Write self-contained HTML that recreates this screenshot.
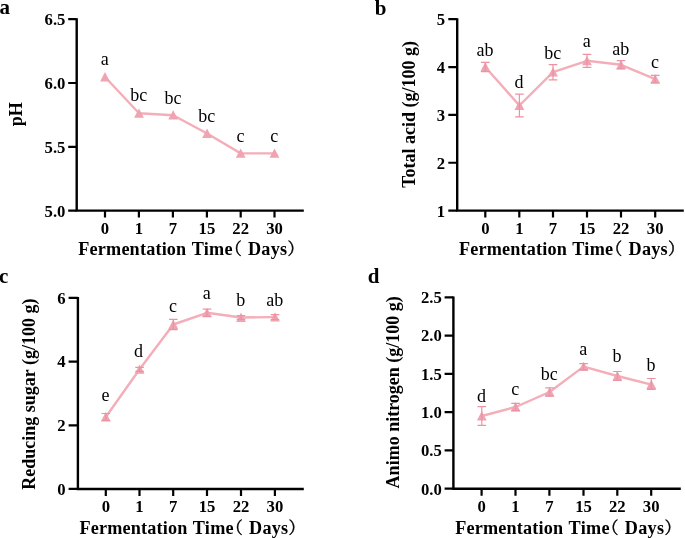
<!DOCTYPE html>
<html lang="en">
<head>
<meta charset="utf-8">
<title>Fermentation time charts</title>
<style>
html,body{margin:0;padding:0;background:#fff;}
body{width:685px;height:538px;overflow:hidden;}
svg{display:block;filter:blur(0.4px);}
text{font-family:'Liberation Serif','Noto Serif CJK SC',serif;fill:#000;}
.pl{font-weight:bold;font-size:21px;}
.tl{font-weight:bold;font-size:16.7px;}
.tt{font-weight:bold;font-size:18.2px;letter-spacing:0.26px;}
.fw{letter-spacing:0.17px;}
.yl{font-weight:bold;font-size:18px;}
.an{font-size:18px;}
.cj{font-weight:normal;font-size:16.5px;stroke:#000;stroke-width:0.45px;letter-spacing:0;}
.ax{fill:none;stroke:#000;stroke-width:2.4;stroke-linecap:butt;stroke-linejoin:miter;}
.tk{fill:none;stroke:#000;stroke-width:2.2;}
.ln{fill:none;stroke:#F3AEB9;stroke-width:2.4;stroke-linejoin:round;}
.eb{fill:none;stroke:#EC92A3;stroke-width:1.2;}
.mk{fill:#F0A3B0;stroke:none;}
</style>
</head>
<body>
<svg width="685" height="538" viewBox="0 0 685 538">
<rect x="0" y="0" width="685" height="538" fill="#fff"/>
<g>
<text class="pl" x="-0.5" y="14.3">a</text>
<polyline class="ln" points="105,77 139,113.3 173.2,115.2 207.1,133.5 240.7,153.4 274.5,153.4"/>
<path class="mk" d="M105 72.1L109.9 81.4H100.1Z"/>
<path class="mk" d="M139 108.4L143.9 117.7H134.1Z"/>
<path class="mk" d="M173.2 110.3L178.1 119.6H168.3Z"/>
<path class="mk" d="M207.1 128.6L212 137.9H202.2Z"/>
<path class="mk" d="M240.7 148.5L245.6 157.8H235.8Z"/>
<path class="mk" d="M274.5 148.5L279.4 157.8H269.6Z"/>
<path class="ax" d="M76.7 18.2V210.6H303.8"/>
<path class="tk" d="M68.2 19.2H76.7M68.2 83H76.7M68.2 146.8H76.7M68.2 210.6H76.7M105 210.6V217.6M138.9 210.6V217.6M172.9 210.6V217.6M206.9 210.6V217.6M240.7 210.6V217.6M274.5 210.6V217.6"/>
<text class="tl" text-anchor="end" x="65.4" y="25.1">6.5</text>
<text class="tl" text-anchor="end" x="65.4" y="88.9">6.0</text>
<text class="tl" text-anchor="end" x="65.4" y="152.7">5.5</text>
<text class="tl" text-anchor="end" x="65.4" y="216.5">5.0</text>
<text class="tl" text-anchor="middle" x="105" y="233.8">0</text>
<text class="tl" text-anchor="middle" x="138.9" y="233.8">1</text>
<text class="tl" text-anchor="middle" x="172.9" y="233.8">7</text>
<text class="tl" text-anchor="middle" x="206.9" y="233.8">15</text>
<text class="tl" text-anchor="middle" x="240.7" y="233.8">22</text>
<text class="tl" text-anchor="middle" x="274.5" y="233.8">30</text>
<text class="tt" x="78.3" y="255.1"><tspan class="fw">Fermentation </tspan><tspan x="191.7">Time</tspan><tspan class="cj" x="225.2">（</tspan><tspan x="247.9">Days</tspan><tspan class="cj" x="287.5">）</tspan></text>
<text class="yl" text-anchor="middle" transform="translate(22.4 114.3) rotate(-90)">pH</text>
<text class="an" text-anchor="middle" x="104.7" y="64.8">a</text>
<text class="an" text-anchor="middle" x="138.7" y="101.4">bc</text>
<text class="an" text-anchor="middle" x="172.9" y="103.5">bc</text>
<text class="an" text-anchor="middle" x="206.8" y="122.4">bc</text>
<text class="an" text-anchor="middle" x="240.4" y="141.9">c</text>
<text class="an" text-anchor="middle" x="274.2" y="141.9">c</text>
</g>
<g>
<text class="pl" x="374.8" y="14.7">b</text>
<polyline class="ln" points="485.3,67 519.4,105.5 553,72.2 587,60.8 621,64.8 655.2,79.2"/>
<path class="mk" d="M485.3 62.1L490.2 71.4H480.4Z"/>
<path class="mk" d="M519.4 100.6L524.3 109.9H514.5Z"/>
<path class="mk" d="M553 67.3L557.9 76.6H548.1Z"/>
<path class="mk" d="M587 55.9L591.9 65.2H582.1Z"/>
<path class="mk" d="M621 59.9L625.9 69.2H616.1Z"/>
<path class="mk" d="M655.2 74.3L660.1 83.6H650.3Z"/>
<path class="eb" d="M485.3 62.3V71.7M481 62.3H489.6M481 71.7H489.6"/>
<path class="eb" d="M519.4 94.1V116.9M515.1 94.1H523.7M515.1 116.9H523.7"/>
<path class="eb" d="M553 64.6V79.8M548.7 64.6H557.3M548.7 79.8H557.3"/>
<path class="eb" d="M587 54.3V67.3M582.7 54.3H591.3M582.7 67.3H591.3"/>
<path class="eb" d="M621 60.6V69M616.7 60.6H625.3M616.7 69H625.3"/>
<path class="eb" d="M655.2 75.4V83M650.9 75.4H659.5M650.9 83H659.5"/>
<path class="ax" d="M457.2 18.2V210.6H683.8"/>
<path class="tk" d="M448.3 19.2H457.2M448.3 67.05H457.2M448.3 114.9H457.2M448.3 162.75H457.2M448.3 210.6H457.2M485.3 210.6V217.6M519.3 210.6V217.6M553 210.6V217.6M587 210.6V217.6M621 210.6V217.6M655.2 210.6V217.6"/>
<text class="tl" text-anchor="end" x="445.2" y="25.1">5</text>
<text class="tl" text-anchor="end" x="445.2" y="72.95">4</text>
<text class="tl" text-anchor="end" x="445.2" y="120.8">3</text>
<text class="tl" text-anchor="end" x="445.2" y="168.65">2</text>
<text class="tl" text-anchor="end" x="445.2" y="216.5">1</text>
<text class="tl" text-anchor="middle" x="485.3" y="233.8">0</text>
<text class="tl" text-anchor="middle" x="519.3" y="233.8">1</text>
<text class="tl" text-anchor="middle" x="553" y="233.8">7</text>
<text class="tl" text-anchor="middle" x="587" y="233.8">15</text>
<text class="tl" text-anchor="middle" x="621" y="233.8">22</text>
<text class="tl" text-anchor="middle" x="655.2" y="233.8">30</text>
<text class="tt" x="458.9" y="255.1"><tspan class="fw">Fermentation </tspan><tspan x="572.3">Time</tspan><tspan class="cj" x="605.8">（</tspan><tspan x="628.5">Days</tspan><tspan class="cj" x="668.1">）</tspan></text>
<text class="yl" text-anchor="middle" transform="translate(414.8 114.4) rotate(-90)">Total acid (g/100 g)</text>
<text class="an" text-anchor="middle" x="485" y="56.3">ab</text>
<text class="an" text-anchor="middle" x="519.1" y="88">d</text>
<text class="an" text-anchor="middle" x="552.7" y="58.7">bc</text>
<text class="an" text-anchor="middle" x="586.7" y="47.2">a</text>
<text class="an" text-anchor="middle" x="620.7" y="54.9">ab</text>
<text class="an" text-anchor="middle" x="654.9" y="68.1">c</text>
</g>
<g>
<text class="pl" x="-0.9" y="282.7">c</text>
<polyline class="ln" points="105.8,417 139.6,369.3 173.3,324.5 207,312.8 241,317.5 275,317.1"/>
<path class="mk" d="M105.8 412.1L110.7 421.4H100.9Z"/>
<path class="mk" d="M139.6 364.4L144.5 373.7H134.7Z"/>
<path class="mk" d="M173.3 319.6L178.2 328.9H168.4Z"/>
<path class="mk" d="M207 307.9L211.9 317.2H202.1Z"/>
<path class="mk" d="M241 312.6L245.9 321.9H236.1Z"/>
<path class="mk" d="M275 312.2L279.9 321.5H270.1Z"/>
<path class="eb" d="M105.8 413.5V420.5M101.5 413.5H110.1M101.5 420.5H110.1"/>
<path class="eb" d="M139.6 367.3V371.3M135.3 367.3H143.9M135.3 371.3H143.9"/>
<path class="eb" d="M173.3 319.3V329.7M169 319.3H177.6M169 329.7H177.6"/>
<path class="eb" d="M207 309.2V316.4M202.7 309.2H211.3M202.7 316.4H211.3"/>
<path class="eb" d="M241 315.7V319.3M236.7 315.7H245.3M236.7 319.3H245.3"/>
<path class="eb" d="M275 314.7V319.5M270.7 314.7H279.3M270.7 319.5H279.3"/>
<path class="ax" d="M77.9 296.9V488.95H303.8"/>
<path class="tk" d="M68.6 297.9H77.9M68.6 361.6H77.9M68.6 425.3H77.9M68.6 488.95H77.9M105.8 488.95V495.95M139.5 488.95V495.95M173.2 488.95V495.95M207 488.95V495.95M241 488.95V495.95M274.9 488.95V495.95"/>
<text class="tl" text-anchor="end" x="65.5" y="303.6">6</text>
<text class="tl" text-anchor="end" x="65.5" y="367.3">4</text>
<text class="tl" text-anchor="end" x="65.5" y="431">2</text>
<text class="tl" text-anchor="end" x="65.5" y="494.65">0</text>
<text class="tl" text-anchor="middle" x="105.8" y="512.4">0</text>
<text class="tl" text-anchor="middle" x="139.5" y="512.4">1</text>
<text class="tl" text-anchor="middle" x="173.2" y="512.4">7</text>
<text class="tl" text-anchor="middle" x="207" y="512.4">15</text>
<text class="tl" text-anchor="middle" x="241" y="512.4">22</text>
<text class="tl" text-anchor="middle" x="274.9" y="512.4">30</text>
<text class="tt" x="79.4" y="533.7"><tspan class="fw">Fermentation </tspan><tspan x="192.8">Time</tspan><tspan class="cj" x="226.3">（</tspan><tspan x="249">Days</tspan><tspan class="cj" x="288.6">）</tspan></text>
<text class="yl" text-anchor="middle" transform="translate(35.3 394.1) rotate(-90)">Reducing sugar (g/100 g)</text>
<text class="an" text-anchor="middle" x="105.5" y="401.4">e</text>
<text class="an" text-anchor="middle" x="138.5" y="357">d</text>
<text class="an" text-anchor="middle" x="173" y="311.9">c</text>
<text class="an" text-anchor="middle" x="206.7" y="299.4">a</text>
<text class="an" text-anchor="middle" x="240.7" y="306.2">b</text>
<text class="an" text-anchor="middle" x="274.7" y="306.2">ab</text>
</g>
<g>
<text class="pl" x="367.7" y="282.7">d</text>
<polyline class="ln" points="481.8,416 515.6,407 549.6,392 583.6,366.6 617.4,376 651.3,384.7"/>
<path class="mk" d="M481.8 411.1L486.7 420.4H476.9Z"/>
<path class="mk" d="M515.6 402.1L520.5 411.4H510.7Z"/>
<path class="mk" d="M549.6 387.1L554.5 396.4H544.7Z"/>
<path class="mk" d="M583.6 361.7L588.5 371H578.7Z"/>
<path class="mk" d="M617.4 371.1L622.3 380.4H612.5Z"/>
<path class="mk" d="M651.3 379.8L656.2 389.1H646.4Z"/>
<path class="eb" d="M481.8 406.7V425.3M477.5 406.7H486.1M477.5 425.3H486.1"/>
<path class="eb" d="M515.6 403.4V410.6M511.3 403.4H519.9M511.3 410.6H519.9"/>
<path class="eb" d="M549.6 387.8V396.2M545.3 387.8H553.9M545.3 396.2H553.9"/>
<path class="eb" d="M583.6 363.7V369.5M579.3 363.7H587.9M579.3 369.5H587.9"/>
<path class="eb" d="M617.4 371.5V380.5M613.1 371.5H621.7M613.1 380.5H621.7"/>
<path class="eb" d="M651.3 378.5V389.3M647 378.5H655.6M647 389.3H655.6"/>
<path class="ax" d="M453.4 296.4V488.7H680.8"/>
<path class="tk" d="M444.6 297.4H453.4M444.6 335.66H453.4M444.6 373.92H453.4M444.6 412.18H453.4M444.6 450.44H453.4M444.6 488.7H453.4M481.6 488.7V495.7M515.5 488.7V495.7M549.4 488.7V495.7M583.5 488.7V495.7M617.3 488.7V495.7M651.2 488.7V495.7"/>
<text class="tl" text-anchor="end" x="441.8" y="303.2">2.5</text>
<text class="tl" text-anchor="end" x="441.8" y="341.46">2.0</text>
<text class="tl" text-anchor="end" x="441.8" y="379.72">1.5</text>
<text class="tl" text-anchor="end" x="441.8" y="417.98">1.0</text>
<text class="tl" text-anchor="end" x="441.8" y="456.24">0.5</text>
<text class="tl" text-anchor="end" x="441.8" y="494.5">0.0</text>
<text class="tl" text-anchor="middle" x="481.6" y="512.4">0</text>
<text class="tl" text-anchor="middle" x="515.5" y="512.4">1</text>
<text class="tl" text-anchor="middle" x="549.4" y="512.4">7</text>
<text class="tl" text-anchor="middle" x="583.5" y="512.4">15</text>
<text class="tl" text-anchor="middle" x="617.3" y="512.4">22</text>
<text class="tl" text-anchor="middle" x="651.2" y="512.4">30</text>
<text class="tt" x="455.2" y="533.7"><tspan class="fw">Fermentation </tspan><tspan x="568.6">Time</tspan><tspan class="cj" x="602.1">（</tspan><tspan x="624.8">Days</tspan><tspan class="cj" x="664.4">）</tspan></text>
<text class="yl" text-anchor="middle" transform="translate(399.3 392.3) rotate(-90)">Animo nitrogen (g/100 g)</text>
<text class="an" text-anchor="middle" x="481.5" y="402.2">d</text>
<text class="an" text-anchor="middle" x="515.3" y="394.6">c</text>
<text class="an" text-anchor="middle" x="549.3" y="379.6">bc</text>
<text class="an" text-anchor="middle" x="583.3" y="355.2">a</text>
<text class="an" text-anchor="middle" x="617.1" y="361.8">b</text>
<text class="an" text-anchor="middle" x="651" y="370.6">b</text>
</g>
</svg>
</body>
</html>
